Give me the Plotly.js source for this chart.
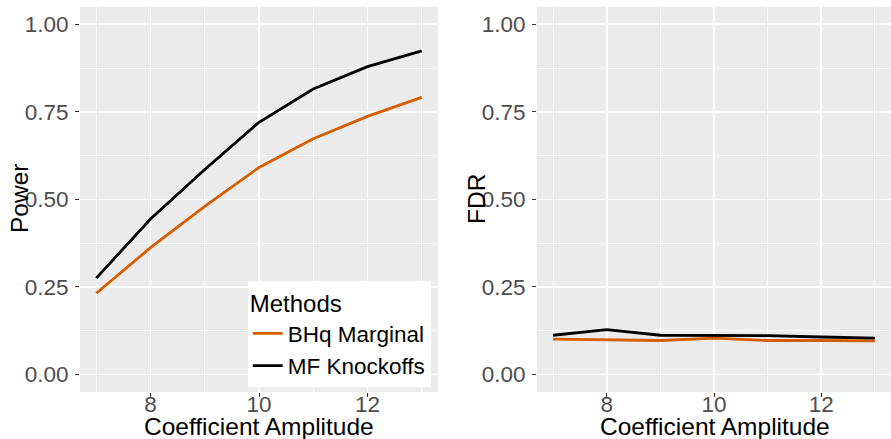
<!DOCTYPE html>
<html>
<head>
<meta charset="utf-8">
<script src="https://cdn.plot.ly/plotly-3.0.1.min.js"></script>
<style>html,body{margin:0;padding:0;background:#fff;}#chart{width:891px;height:439px;}</style>
</head>
<body>
<div id="chart"></div>
<script>
const amplitude = [7, 8, 9, 10, 11, 12, 13];
const powerBHq = [0.232, 0.362, 0.480, 0.591, 0.673, 0.737, 0.791];
const powerMF  = [0.275, 0.444, 0.585, 0.720, 0.815, 0.879, 0.924];
const fdrBHq   = [0.101, 0.100, 0.097, 0.104, 0.097, 0.097, 0.096];
const fdrMF    = [0.112, 0.128, 0.112, 0.112, 0.111, 0.107, 0.104];
const methodNames = ['BHq Marginal', 'MF Knockoffs'];
const methodColors = ['#D55E00', '#000000'];
const yTicks = [0, 0.25, 0.5, 0.75, 1.0];
const yTickText = ['0.00', '0.25', '0.50', '0.75', '1.00'];

const FONT = 'Liberation Sans, Arial, sans-serif';
const W = 891, H = 439;

const traces = [
  {x: amplitude, y: powerBHq, xaxis: 'x', yaxis: 'y', name: methodNames[0], mode: 'lines',
   line: {color: methodColors[0], width: 2.8}},
  {x: amplitude, y: powerMF, xaxis: 'x', yaxis: 'y', name: methodNames[1], mode: 'lines',
   line: {color: methodColors[1], width: 2.8}},
  {x: amplitude, y: fdrBHq, xaxis: 'x2', yaxis: 'y2', name: methodNames[0], mode: 'lines',
   line: {color: methodColors[0], width: 2.8}, showlegend: false},
  {x: amplitude, y: fdrMF, xaxis: 'x2', yaxis: 'y2', name: methodNames[1], mode: 'lines',
   line: {color: methodColors[1], width: 2.8}, showlegend: false},
  // empty traces only register the tick-label axes x3 / x4 (no marks drawn)
  {x: [], y: [], xaxis: 'x3', yaxis: 'y', mode: 'lines', showlegend: false, hoverinfo: 'skip'},
  {x: [], y: [], xaxis: 'x4', yaxis: 'y2', mode: 'lines', showlegend: false, hoverinfo: 'skip'}
];

const yDom = [(H - 392) / H, (H - 6.7) / H];
const xRange = [6.7, 13.3];
const tickFont = {family: FONT, size: 22.5, color: '#4D4D4D'};
function xAxis(domain, anchor) {
  return {
    domain: domain, anchor: anchor, range: xRange,
    tickmode: 'linear', tick0: 8, dtick: 2,
    ticks: 'outside', ticklen: 4, tickwidth: 1, tickcolor: '#333333',
    showticklabels: false,
    showgrid: true, gridcolor: '#FFFFFF', gridwidth: 1.6,
    minor: {dtick: 1, tick0: 7, showgrid: true, gridcolor: '#FFFFFF', gridwidth: 0.8, ticks: ''},
    zeroline: false, showline: false, automargin: false,
    fixedrange: true
  };
}
function xLabelAxis(domain, over) {
  return {
    domain: domain, overlaying: over, anchor: 'free', position: yDom[0] + 4 / H, side: 'bottom',
    range: xRange, tickmode: 'linear', tick0: 8, dtick: 2,
    ticks: '', showticklabels: true, showgrid: false, zeroline: false, showline: false,
    automargin: false, tickfont: tickFont, fixedrange: true
  };
}
function yAxis(anchor) {
  return {
    domain: yDom, anchor: anchor, range: [-0.05, 1.05],
    tickmode: 'array', tickvals: yTicks, ticktext: yTickText,
    ticks: 'outside', ticklen: 4, tickwidth: 1, tickcolor: '#333333',
    showgrid: true, gridcolor: '#FFFFFF', gridwidth: 1.6,
    minor: {dtick: 0.125, tick0: 0, showgrid: true, gridcolor: '#FFFFFF', gridwidth: 0.8, ticks: ''},
    zeroline: false, showline: false, automargin: false,
    ticklabelstandoff: 2,
    tickfont: tickFont,
    fixedrange: true
  };
}

const titleFont = {family: FONT, size: 24.5, color: '#000000'};
const layout = {
  width: W, height: H,
  margin: {l: 0, r: 0, t: 0, b: 0, pad: 0},
  paper_bgcolor: '#FFFFFF', plot_bgcolor: '#EBEBEB',
  showlegend: true,
  xaxis: xAxis([80 / W, 438 / W], 'y'),
  yaxis: yAxis('x'),
  xaxis2: xAxis([537 / W, 1], 'y2'),
  yaxis2: yAxis('x2'),
  xaxis3: xLabelAxis([80 / W, 438 / W], 'x'),
  xaxis4: xLabelAxis([537 / W, 1], 'x2'),
  legend: {
    x: 430.7 / W, xanchor: 'right', y: (H - 387) / H, yanchor: 'bottom',
    bgcolor: '#FFFFFF', borderwidth: 0,
    title: {text: 'Methods', font: {family: FONT, size: 24, color: '#000000'}},
    font: {family: FONT, size: 22.5, color: '#000000'},
    tracegroupgap: 0, itemwidth: 30
  },
  annotations: [
    {text: 'Coefficient Amplitude', xref: 'paper', yref: 'paper', x: 259 / W, y: (H - 426) / H,
     xanchor: 'center', yanchor: 'middle', showarrow: false, font: titleFont},
    {text: 'Coefficient Amplitude', xref: 'paper', yref: 'paper', x: 715 / W, y: (H - 426) / H,
     xanchor: 'center', yanchor: 'middle', showarrow: false, font: titleFont},
    {text: 'Power', xref: 'paper', yref: 'paper', x: 19 / W, y: (H - 199) / H, textangle: -90,
     xanchor: 'center', yanchor: 'middle', showarrow: false, font: titleFont},
    {text: 'FDR', xref: 'paper', yref: 'paper', x: 476 / W, y: (H - 199) / H, textangle: -90,
     xanchor: 'center', yanchor: 'middle', showarrow: false, font: titleFont}
  ]
};

Plotly.newPlot('chart', traces, layout, {displayModeBar: false, staticPlot: true});
</script>
</body>
</html>
